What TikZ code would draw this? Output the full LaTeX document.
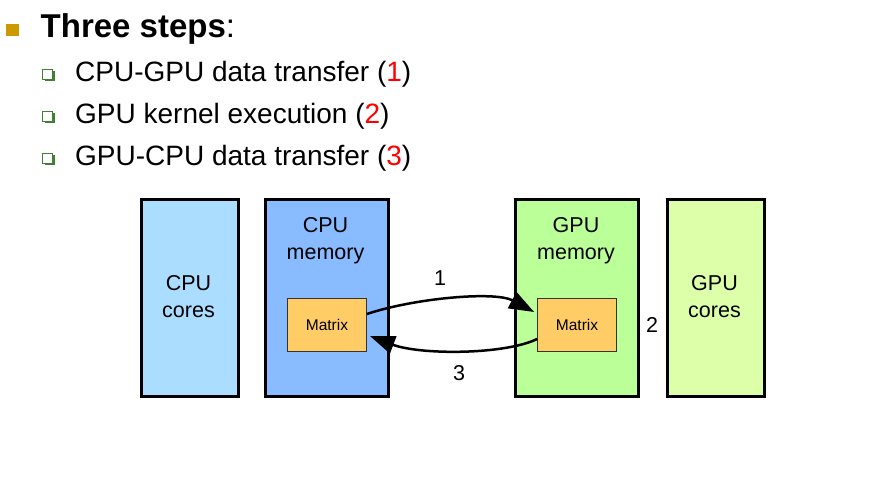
\documentclass[tikz,border=0pt]{standalone}
\usepackage{fontspec}
\setmainfont{Liberation Sans}
\usetikzlibrary{arrows.meta,shadows}
\definecolor{corecpu}{HTML}{AADDFF}
\definecolor{memcpu}{HTML}{88BBFF}
\definecolor{memgpu}{HTML}{BBFF99}
\definecolor{coregpu}{HTML}{DDFFAA}
\definecolor{matfill}{HTML}{FFCC66}
\definecolor{bulgold}{HTML}{CC9900}
\definecolor{bulgreen}{HTML}{3F8033}
\begin{document}
\begin{tikzpicture}[x=1pt,y=1pt]
\useasboundingbox (0,0) rectangle (896,-486);
\tikzstyle{unitbox} = [rectangle,draw=black,line width=3pt,minimum width=97pt,minimum height=197pt,inner sep=0pt]
\tikzstyle{matbox} = [rectangle,draw=black!80,line width=0.8pt,fill=matfill,minimum width=79pt,minimum height=53pt,inner sep=0pt,font=\fontsize{15.5}{18}\selectfont]
\tikzstyle{unittext} = [align=center,inner sep=0pt,font=\fontsize{21.5}{27}\selectfont]
\tikzstyle{subbullet} = [rectangle,draw=bulgreen,line width=1.3pt,fill=white,minimum size=10pt,inner sep=0pt,general shadow={fill=bulgreen,shadow xshift=2pt,shadow yshift=-2pt}]
\tikzstyle{steptext} = [anchor=base west,inner sep=0pt,font=\fontsize{28}{34}\selectfont]
\tikzstyle{numtext} = [inner sep=0pt,font=\fontsize{21.5}{26}\selectfont]
\tikzstyle{flow} = [line width=2.5pt,-{Triangle[length=25pt,width=18pt]}]
%%%%%%%%%%%%%%%%%%%%%%%%%%%%%
% heading and the three steps
%%%%%%%%%%%%%%%%%%%%%%%%%%%%%
\node (hb) [rectangle,fill=bulgold,minimum size=12.5pt,inner sep=0pt] at (12.5,-30) {};
\node (head) [anchor=base west,inner sep=0pt,font=\fontsize{33}{40}\selectfont] at ([xshift=28pt,yshift=-8pt]hb.center) {\textbf{Three steps}:};
\node (s1) [steptext] at ([xshift=34.5pt,yshift=-44pt]head.base west) {CPU-GPU data transfer (\textcolor{red}{1})};
\node (s2) [steptext] at ([yshift=-42pt]s1.base west) {GPU kernel execution (\textcolor{red}{2})};
\node (s3) [steptext] at ([yshift=-42pt]s2.base west) {GPU-CPU data transfer (\textcolor{red}{3})};
\node (b1) [subbullet] at ([xshift=-27.5pt,yshift=7.5pt]s1.base west) {};
\node (b2) [subbullet] at ([xshift=-27.5pt,yshift=7.5pt]s2.base west) {};
\node (b3) [subbullet] at ([xshift=-27.5pt,yshift=7.5pt]s3.base west) {};
%%%%%%%%%%%%%%%%%%%%%%%%%%%%%
% cpu side / gpu side
%%%%%%%%%%%%%%%%%%%%%%%%%%%%%
\node [unitbox,fill=corecpu] (cpu_core) at (190,-298) {};
\node [unitbox,fill=memcpu,minimum width=123pt] (cpu_mem) at ([xshift=137pt]cpu_core.center) {};
\node [unitbox,fill=memgpu,minimum width=123pt] (gpu_mem) at ([xshift=250pt]cpu_mem.center) {};
\node [unitbox,fill=coregpu] (gpu_core) at ([xshift=139pt]gpu_mem.center) {};
\node [unittext] (t_cc) at ([xshift=-1.5pt,yshift=1pt]cpu_core.center) {CPU\\cores};
\node [unittext,anchor=north] (t_cm) at ([xshift=-1.5pt,yshift=-19pt]cpu_mem.north) {CPU\\memory};
\node [unittext,anchor=north] (t_gm) at ([xshift=-1pt,yshift=-19pt]gpu_mem.north) {GPU\\memory};
\node [unittext] (t_gc) at ([xshift=-1.5pt,yshift=1pt]gpu_core.center) {GPU\\cores};
\node [matbox] (mat_c) at ([yshift=-27pt]cpu_mem.center) {Matrix};
\node [matbox] (mat_g) at ([yshift=-27pt]gpu_mem.center) {Matrix};
% transfers
\draw [flow] ([yshift=11pt]mat_c.east) .. controls +(48,16) and +(-39,21) .. ([xshift=-3pt,yshift=13pt]mat_g.west);
\draw [flow] ([yshift=-14pt]mat_g.west) .. controls +(-33,-16) and +(50,-19) .. ([xshift=3pt,yshift=-11pt]mat_c.east);
\node [numtext] (n1) at ([xshift=113pt,yshift=47pt]mat_c.center) {1};
\node [numtext] (n3) at ([xshift=132pt,yshift=-48pt]mat_c.center) {3};
\node [numtext] (n2) at ([xshift=75pt]mat_g.center) {2};
\end{tikzpicture}
\end{document}
